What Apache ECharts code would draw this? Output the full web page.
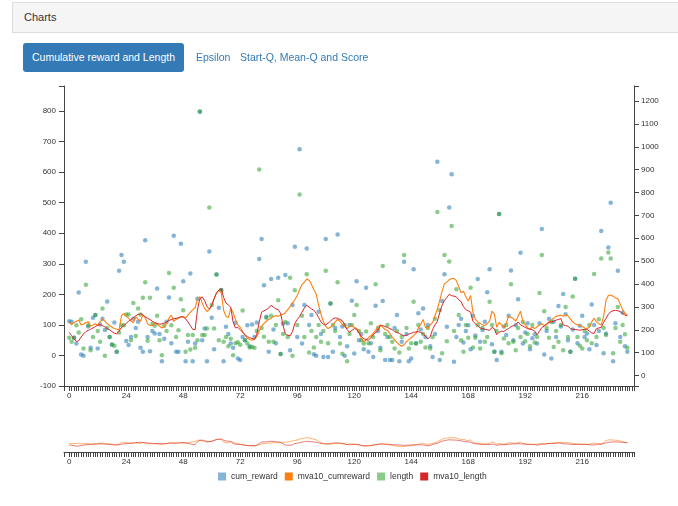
<!DOCTYPE html>
<html>
<head>
<meta charset="utf-8">
<script src="https://cdn.jsdelivr.net/npm/echarts@6/dist/echarts.min.js"></script>
<style>
html, body { margin: 0; padding: 0; width: 678px; height: 506px; overflow: hidden; background: #fff;
  font-family: "Liberation Sans", Arial, Helvetica, sans-serif; }
#chart { position: absolute; left: 0; top: 0; width: 678px; height: 506px; z-index: 0; }
.panel-heading { position: absolute; left: 12px; top: 2px; width: 670px; height: 31px; box-sizing: border-box;
  background: #f5f5f5; border: 1px solid #ddd; border-right: none; color: #333; font-size: 11px;
  line-height: 29px; padding-left: 11px; z-index: 1; }
.tab { position: absolute; top: 43px; height: 29px; line-height: 29px; font-size: 10.5px; color: #337ab7; z-index: 1; white-space: nowrap; }
.tab.active { left: 23px; width: 161px; background: #337ab7; color: #fff; border-radius: 3px; text-align: center; }
</style>
</head>
<body>
<div class="panel-heading">Charts</div>
<div class="tab active">Cumulative reward and Length</div>
<div class="tab" style="left:196px">Epsilon</div>
<div class="tab" style="left:240px">Start-Q, Mean-Q and Score</div>
<div id="chart"></div>
<script>
// Per-episode cumulative reward (left axis)
const cumReward = [
  112,110,58,39,206,3,-1,307,95,25, 123,132,23,101,120,83,177,60,35,108,
  12,277,329,307,47,34,60,120,90,110, 25,12,377,60,14,80,72,219,70,-19,
  55,110,190,40,392,12,12,366,243,-19, 45,268,-19,39,186,798,50,88,-19,340,
  123,20,265,156,214,-19,94,70,39,25, 107,-10,-15,60,50,99,30,101,
  60,108,316,381,230,127,12,250,85,40,
  254,5,104,263,105,17,165,356,60,675,
  39,165,350,100,132,4,-1,143,70,-5,
  381,-5,170,12,90,396,60,95,-1,30,
  100,179,6,243,50,70,20,222,12,40,
  -5,163,80,25,178,-15,60,-15,-15,90,
  132,-19,45,307,70,-19,-10,282,40,138,
  85,154,60,100,30,-5,70,634,
  -15,178,266,94,484,593,-21,60,100,120,
  42,80,99,20,130,65,250,45,83,110,
  207,282,37,12,-15,463,12,95,67,130,
  278,50,99,184,336,39,75,105,20,56,
  69,39,105,414,3,80,120,-10,110,60,
  162,95,201,135,50,12,85,251,40,97,
  130,60,72,20,167,100,34,80,407,7,
  72,353,500,-19,105,277,60,140,30,12
];

// Per-episode length (right axis)
const episodeLength = [
  165,148,165,220,188,246,118,397,220,110, 168,264,194,148,293,86,208,168,136,130,
  104,188,220,220,267,267,154,317,173,293, 267,340,408,152,340,226,217,261,154,89,
  217,194,448,220,384,168,198,333,285,104, 177,114,177,121,154,1154,177,177,205,735,
  308,205,442,154,373,148,168,128,161,89, 141,145,134,284,154,140,122,125,
  121,194,901,208,169,252,148,261,148,221,
  329,94,181,234,168,427,86,373,221,792,
  261,168,443,101,194,122,168,221,148,194,
  458,141,315,221,194,408,140,95,221,62,
  181,221,264,308,194,154,140,192,141,228,
  168,399,208,110,479,181,221,168,148,118,
  194,101,168,527,208,118,141,323,140,221,
  148,181,122,208,118,168,248,715,
  285,97,527,150,498,654,194,377,264,154,
  104,221,165,384,122,165,221,118,208,148,
  168,323,221,104,194,706,97,162,221,141,
  399,148,110,208,168,234,150,181,128,221,
  144,168,361,527,281,208,165,234,125,194,
  148,221,110,299,168,104,345,423,168,130,
  118,194,154,221,141,444,168,246,512,208,
  177,538,512,97,208,299,148,221,180,121
];

// 10-episode moving average of cumulative reward (left axis)
const mva10CumReward = [
  110,100,108,112,115,100,102,108,110,96, 100,104,98,110,120,112,104,98,92,88,
  86,84,130,138,128,122,112,108,126,118, 112,132,124,104,98,98,106,102,96,90,
  95,104,122,132,112,118,122,126,128,122, 132,142,150,156,186,192,172,154,144,150,
  166,186,204,214,206,148,128,124,154,140, 118,100,92,78,66,56,52,50,
  55,62,80,95,105,112,118,122,128,130,
  128,132,135,140,150,160,172,182,196,215,
  232,240,250,246,232,215,200,165,135,112,
  95,88,92,100,110,118,112,102,95,88,
  95,98,92,88,80,55,45,50,58,65,
  72,82,95,100,92,85,82,72,60,52,
  42,35,30,35,45,52,58,65,72,90,
  102,118,92,88,100,108,130,152,180,210,
  235,240,248,252,
  252,245,225,205,210,192,178,196,140,118,
  110,105,100,98,104,112,145,135,92,108,
  100,90,105,128,125,120,112,128,145,112,
  100,90,88,92,88,94,100,104,98,100,
  108,116,122,128,130,132,128,132,130,120,
  110,104,100,98,95,90,88,92,110,122,
  110,104,100,128,180,196,198,194,188,186,
  168,150,138,132
];

// 10-episode moving average of length (right axis)
const mva10Length = [
  188,174,161,149,152,168,181,192,197,202, 208,214,220,222,218,213,205,200,192,185,
  182,194,210,218,228,237,245,253,261,267, 269,267,256,250,245,237,232,228,224,226,
  229,234,240,245,248,250,253,257,256,248, 234,218,202,200,288,336,344,328,301,291,
  304,335,361,373,380,341,317,308,299,234, 208,210,200,189,178,170,165,162,
  157,181,234,277,283,288,295,307,299,291,
  288,272,221,181,176,173,192,228,245,258,
  277,295,307,299,291,285,272,254,234,224,
  221,229,237,248,252,250,245,240,221,201,
  189,197,205,202,186,170,161,157,154,165,
  178,188,197,218,218,214,210,205,200,192,
  188,184,178,173,176,181,185,189,190,192,
  188,184,170,160,170,201,221,237,275,308,
  328,341,355,349,
  347,344,331,323,301,288,283,277,237,226,
  218,208,205,202,200,197,210,205,178,189,
  194,192,200,205,213,218,221,234,221,216,
  210,205,202,200,194,178,194,210,216,226,
  234,234,237,242,245,249,221,218,216,205,
  202,201,200,198,200,202,202,194,186,184,
  205,208,210,232,250,267,279,283,285,283,
  279,272,264,261
];

const episodes = cumReward.map((_, i) => i);
const xLabelValues = [0, 24, 48, 72, 96, 120, 144, 168, 192, 216];
const leftLabelValues = [-100, 0, 100, 200, 300, 400, 500, 600, 700, 800];
const rightLabelValues = [0, 100, 200, 300, 400, 500, 600, 700, 800, 900, 1000, 1100, 1200];

const X_MIN = -2.2, X_MAX = 237.8;
const L_MIN = -100, L_MAX = 882;
const R_MIN = -46, R_MAX = 1266;

const xTickValues = [X_MIN];
for (let i = 0; i <= 237; i++) xTickValues.push(i);
xTickValues.push(X_MAX);

const pairs = vals => vals.map((v, i) => [episodes[i], v]);
const plain = v => String(v);

const axisColor = '#444';
const labelStyle = { fontSize: 8, color: '#333', fontFamily: '"Liberation Sans", Arial, sans-serif', formatter: plain };

function xAxisFor(grid) {
  return {
    type: 'value', gridIndex: grid, min: X_MIN, max: X_MAX,
    axisLine: { show: true, onZero: false, lineStyle: { color: axisColor, width: 1 } },
    axisTick: { show: true, customValues: xTickValues, length: 5, lineStyle: { color: axisColor, width: 1 } },
    axisLabel: Object.assign({ customValues: xLabelValues, margin: 6 }, labelStyle),
    splitLine: { show: false }
  };
}

const chart = echarts.init(document.getElementById('chart'), null, { renderer: 'canvas' });
chart.setOption({
  animation: false,
  backgroundColor: 'transparent',
  grid: [
    { left: 64, right: 44, top: 86, bottom: 120 },
    { left: 64, right: 44, top: 412, bottom: 54 }
  ],
  xAxis: [xAxisFor(0), xAxisFor(1)],
  yAxis: [
    {
      type: 'value', gridIndex: 0, position: 'left', min: L_MIN, max: L_MAX,
      axisLine: { show: true, onZero: false, lineStyle: { color: axisColor } },
      axisTick: { show: true, customValues: leftLabelValues.concat([L_MAX]), length: 5, lineStyle: { color: axisColor } },
      axisLabel: Object.assign({ customValues: leftLabelValues, margin: 8 }, labelStyle),
      splitLine: { show: false }
    },
    {
      type: 'value', gridIndex: 0, position: 'right', min: R_MIN, max: R_MAX,
      axisLine: { show: true, onZero: false, lineStyle: { color: axisColor } },
      axisTick: { show: true, customValues: [R_MIN].concat(rightLabelValues, [R_MAX]), length: 5, lineStyle: { color: axisColor } },
      axisLabel: Object.assign({ customValues: rightLabelValues, margin: 7 }, labelStyle),
      splitLine: { show: false }
    },
    { type: 'value', gridIndex: 1, min: L_MIN, max: L_MAX, show: false },
    { type: 'value', gridIndex: 1, min: R_MIN, max: R_MAX, show: false }
  ],
  legend: {
    left: 213, top: 467, itemWidth: 8, itemHeight: 8, itemGap: 7, icon: 'rect',
    textStyle: { fontSize: 8.5, color: '#333', fontFamily: '"Liberation Sans", Arial, sans-serif' },
    data: ['cum_reward', 'mva10_cumreward', 'length', 'mva10_length']
  },
  series: [
    {
      name: 'cum_reward', type: 'scatter', xAxisIndex: 0, yAxisIndex: 0,
      symbolSize: 4.5, itemStyle: { color: '#1f77b4', opacity: 0.55 },
      data: pairs(cumReward), z: 2
    },
    {
      name: 'length', type: 'scatter', xAxisIndex: 0, yAxisIndex: 1,
      symbolSize: 4.5, itemStyle: { color: '#2ca02c', opacity: 0.55 },
      data: pairs(episodeLength), z: 2
    },
    {
      name: 'mva10_cumreward', type: 'line', xAxisIndex: 0, yAxisIndex: 0,
      showSymbol: false, symbol: 'none', color: '#ff7f0e',
      lineStyle: { color: '#ff7f0e', width: 1.1 },
      data: pairs(mva10CumReward), z: 3
    },
    {
      name: 'mva10_length', type: 'line', xAxisIndex: 0, yAxisIndex: 1,
      showSymbol: false, symbol: 'none', color: '#d62728',
      lineStyle: { color: '#d62728', width: 1 },
      data: pairs(mva10Length), z: 3
    },
    {
      name: 'mva10_cumreward', type: 'line', xAxisIndex: 1, yAxisIndex: 2,
      showSymbol: false, symbol: 'none', color: '#ff7f0e',
      lineStyle: { color: '#ff7f0e', width: 1, opacity: 0.6 },
      data: pairs(mva10CumReward)
    },
    {
      name: 'mva10_length', type: 'line', xAxisIndex: 1, yAxisIndex: 3,
      showSymbol: false, symbol: 'none', color: '#d62728',
      lineStyle: { color: '#d62728', width: 1, opacity: 0.6 },
      data: pairs(mva10Length)
    }
  ]
});
</script>
</body>
</html>
